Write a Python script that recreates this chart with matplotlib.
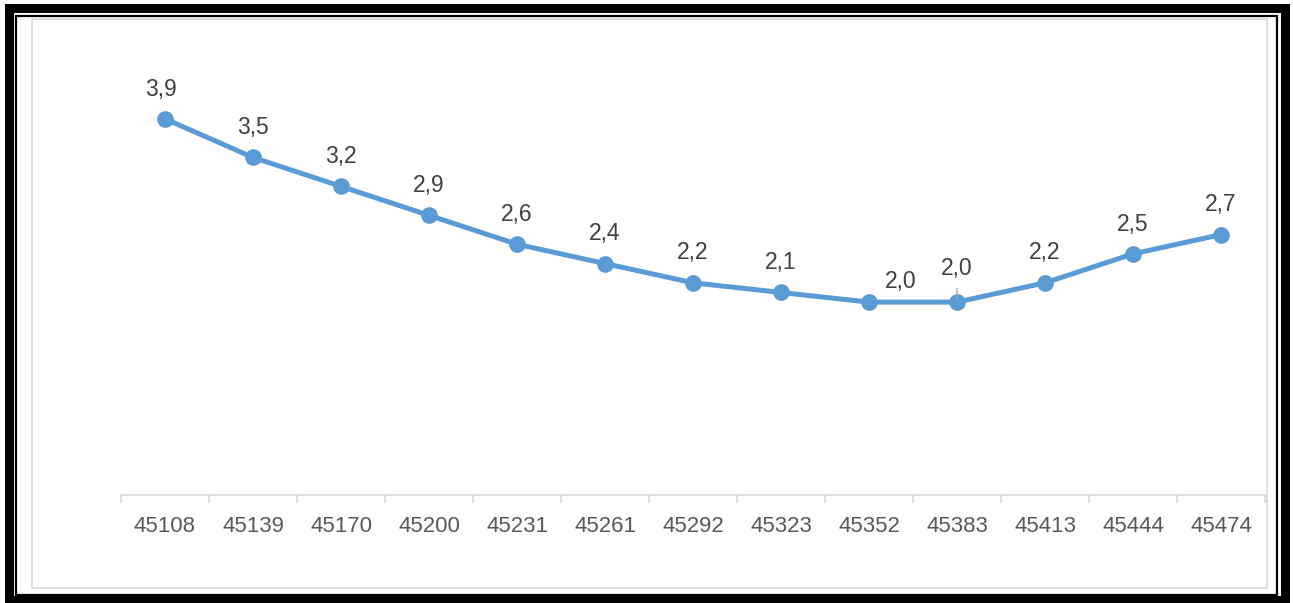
import matplotlib
matplotlib.use("Agg")
import matplotlib.pyplot as plt
from matplotlib.patches import Rectangle

months = ["45108", "45139", "45170", "45200", "45231", "45261", "45292",
          "45323", "45352", "45383", "45413", "45444", "45474"]
values = [3.9, 3.5, 3.2, 2.9, 2.6, 2.4, 2.2, 2.1, 2.0, 2.0, 2.2, 2.5, 2.7]
labels = ["3,9", "3,5", "3,2", "2,9", "2,6", "2,4", "2,2",
          "2,1", "2,0", "2,0", "2,2", "2,5", "2,7"]

W, H = 1293, 603
fig = plt.figure(figsize=(W / 100, H / 100), dpi=100)
plt.rcParams['font.family'] = ['Liberation Sans', 'DejaVu Sans']

def px(x0, y0, x1, y1):
    # pixel box -> figure fraction rect (left, bottom, width, height)
    return (x0 / W, 1 - y1 / H, (x1 - x0) / W, (y1 - y0) / H)

# frames
for box, lw, col in [((9, 8, 1285, 600), 6.5, "black"),
                     ((16, 16, 1277, 595), 1.6, "black"),
                     ((32, 19, 1267, 588), 1.2, "#D9D9D9")]:
    l, b, w, h = px(*box)
    fig.patches.append(Rectangle((l, b), w, h, transform=fig.transFigure,
                                 fill=False, edgecolor=col, linewidth=lw))

ax = fig.add_axes(px(121, 61, 1265, 495))
x = list(range(len(months)))
ax.plot(x, values, color="#5B9BD5", linewidth=3.6, marker="o", markersize=11,
        solid_capstyle="round", solid_joinstyle="round", zorder=3)

for i, (v, t) in enumerate(zip(values, labels)):
    dx, dy = 0, 21.5
    if i == 0:
        dx = -3
    if i == 8:
        dx, dy = 23, 14.5
    if i == 9:
        dy = 24
        ax.annotate("", xy=(i, v), xytext=(0, 12), textcoords="offset points",
                    arrowprops=dict(arrowstyle="-", color="#A6A6A6", lw=1))
    ax.annotate(t, (i, v), xytext=(dx, dy), textcoords="offset points",
                ha="center", va="center", fontsize=16.5, color="#404040")

ax.set_xlim(-0.5, len(months) - 0.5)
ax.set_ylim(0, 4.5)
ax.set_xticks([i - 0.5 for i in range(len(months) + 1)], minor=False)
ax.set_xticklabels([])
ax.set_xticks(x, minor=True)
ax.set_xticklabels(months, minor=True, fontsize=16, color="#595959")
ax.tick_params(axis="x", which="major", length=6, width=1.2, color="#D9D9D9", direction="out")
ax.tick_params(axis="x", which="minor", length=0, pad=15)
ax.set_yticks([])
for s in ["top", "left", "right"]:
    ax.spines[s].set_visible(False)
ax.spines["bottom"].set_color("#D9D9D9")
ax.spines["bottom"].set_linewidth(1.2)
ax.patch.set_visible(False)

fig.savefig("out.png", dpi=100)
